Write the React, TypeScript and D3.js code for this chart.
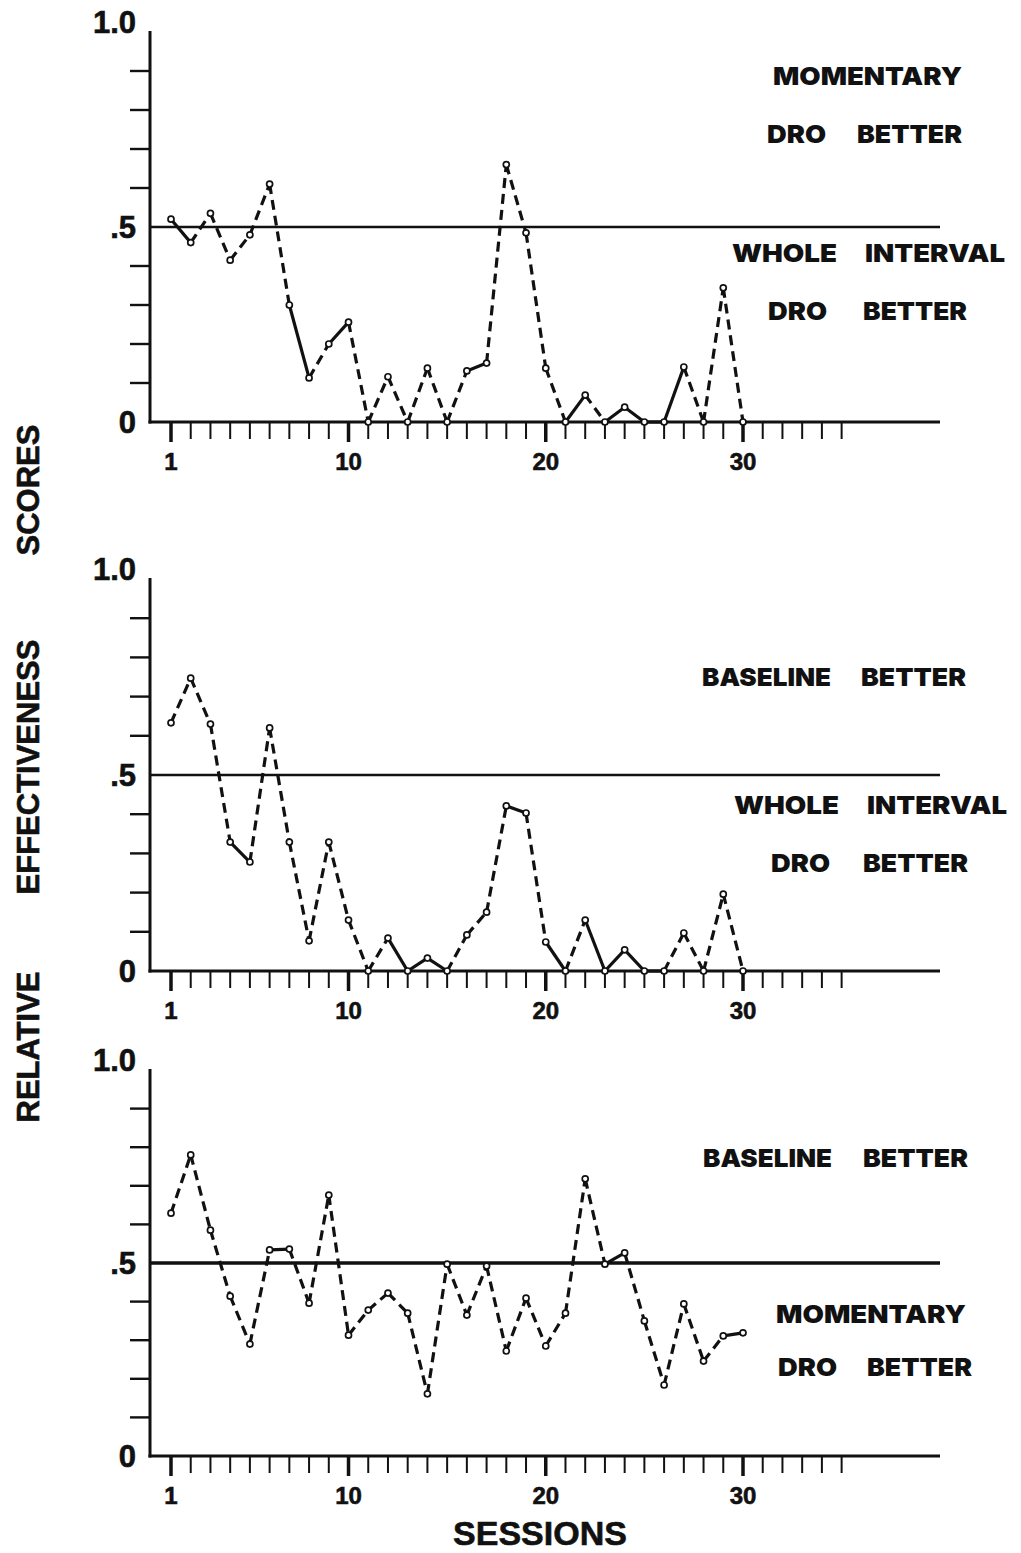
import React from "react";
import * as d3 from "d3";

// ---------- data ----------
const sessions = d3.range(1, 31);
const panel1Scores = [0.52, 0.46, 0.535, 0.415, 0.48, 0.61, 0.3, 0.113, 0.2, 0.256, 0, 0.116, 0, 0.138, 0, 0.131, 0.151, 0.66, 0.485, 0.138, 0, 0.069, 0, 0.038, 0, 0, 0.141, 0, 0.344, 0];
const panel2Scores = [0.633, 0.747, 0.63, 0.329, 0.278, 0.62, 0.329, 0.077, 0.329, 0.13, 0, 0.084, 0, 0.033, 0, 0.092, 0.15, 0.421, 0.403, 0.074, 0, 0.13, 0, 0.054, 0, 0, 0.097, 0, 0.196, 0];
const panel3Scores = [0.629, 0.78, 0.585, 0.414, 0.29, 0.534, 0.536, 0.396, 0.676, 0.313, 0.378, 0.422, 0.37, 0.161, 0.497, 0.365, 0.492, 0.272, 0.409, 0.285, 0.37, 0.718, 0.497, 0.526, 0.35, 0.184, 0.394, 0.246, 0.311, 0.319];
// segments (starting session) drawn as solid strokes in the original
const panel1Solid = [1, 7, 9, 16, 21, 23, 24, 25, 26];
const panel2Solid = [4, 12, 13, 14, 18, 20, 22, 23, 24, 25];
const panel3Solid = [6, 23, 29];
const xTickValues = d3.range(1, 36);
const xTickLabels = [1, 10, 20, 30];
const yMinorTicks = [0.1, 0.2, 0.3, 0.4, 0.6, 0.7, 0.8, 0.9];
const yAxisLabels = [
  { v: 1.0, t: "1.0" },
  { v: 0.5, t: ".5" },
  { v: 0, t: "0" },
];
const referenceValue = 0.5;

type Word = { text: string; x0: number; x1: number };
type Note = { baseline: number; words: Word[] };

const panel1Notes: Note[] = [
  { baseline: 85, words: [{ text: "MOMENTARY", x0: 773, x1: 962 }] },
  { baseline: 143, words: [{ text: "DRO", x0: 767, x1: 826 }, { text: "BETTER", x0: 857, x1: 962 }] },
  { baseline: 262, words: [{ text: "WHOLE", x0: 732, x1: 837 }, { text: "INTERVAL", x0: 865, x1: 1005 }] },
  { baseline: 320, words: [{ text: "DRO", x0: 768, x1: 827 }, { text: "BETTER", x0: 863, x1: 967 }] },
];
const panel2Notes: Note[] = [
  { baseline: 686, words: [{ text: "BASELINE", x0: 702, x1: 831 }, { text: "BETTER", x0: 861, x1: 966 }] },
  { baseline: 814, words: [{ text: "WHOLE", x0: 734, x1: 839 }, { text: "INTERVAL", x0: 867, x1: 1007 }] },
  { baseline: 872, words: [{ text: "DRO", x0: 771, x1: 830 }, { text: "BETTER", x0: 863, x1: 968 }] },
];
const panel3Notes: Note[] = [
  { baseline: 1167, words: [{ text: "BASELINE", x0: 703, x1: 832 }, { text: "BETTER", x0: 863, x1: 968 }] },
  { baseline: 1323, words: [{ text: "MOMENTARY", x0: 776, x1: 966 }] },
  { baseline: 1376, words: [{ text: "DRO", x0: 778, x1: 837 }, { text: "BETTER", x0: 867, x1: 972 }] },
];

// ---------- layout ----------
const W = 1021;
const H = 1553;
const axisX = 150;
const axisEnd = 940;
const x = d3.scaleLinear().domain([1, 30]).range([171, 743]);

const panels = [
  { y0: 422, y1: 32, data: panel1Scores, solid: panel1Solid, notes: panel1Notes, refW: 2.6 },
  { y0: 971, y1: 579, data: panel2Scores, solid: panel2Solid, notes: panel2Notes, refW: 2.6 },
  { y0: 1456, y1: 1070, data: panel3Scores, solid: panel3Solid, notes: panel3Notes, refW: 3.6 },
];

const ink = "#111";
const numFont = "'Liberation Sans', Arial, Helvetica, sans-serif";
const noteFont = "Inter, 'DejaVu Sans', sans-serif";

function Panel({ p }: { p: (typeof panels)[number] }) {
  const y = d3.scaleLinear().domain([0, 1]).range([p.y0, p.y1]);
  const line = d3
    .line<[number, number]>()
    .x((d) => x(d[0]))
    .y((d) => y(d[1]));
  const pts: [number, number][] = sessions.map((s, i) => [s, p.data[i]]);
  const segs = pts.slice(0, -1).map((a, i) => ({ a, b: pts[i + 1], solid: p.solid.includes(a[0]) }));
  return (
    <g>
      {/* y axis */}
      <line x1={axisX} x2={axisX} y1={y(1) - 1} y2={y(0) + 1.5} stroke={ink} strokeWidth={3} />
      {yMinorTicks.map((v) => (
        <line key={v} x1={axisX - 20} x2={axisX} y1={y(v)} y2={y(v)} stroke={ink} strokeWidth={2.4} />
      ))}
      {yAxisLabels.map((l) => (
        <text
          key={l.t}
          x={136}
          y={y(l.v) + (l.v === 1 ? 1 : 11)}
          textAnchor="end"
          fontFamily={numFont}
          fontWeight="bold"
          fontSize={31}
          fill={ink}
          stroke={ink}
          strokeWidth={0.6}
        >
          {l.t}
        </text>
      ))}
      {/* x axis */}
      <line x1={axisX - 1.5} x2={axisEnd} y1={y(0)} y2={y(0)} stroke={ink} strokeWidth={3} />
      {xTickValues.map((t) => {
        const major = xTickLabels.includes(t);
        return (
          <line
            key={t}
            x1={x(t)}
            x2={x(t)}
            y1={y(0)}
            y2={y(0) + (major ? 20 : 17)}
            stroke={ink}
            strokeWidth={major ? 3.5 : 2}
          />
        );
      })}
      {xTickLabels.map((t) => (
        <text
          key={t}
          x={x(t)}
          y={y(0) + 48}
          textAnchor="middle"
          fontFamily={numFont}
          fontWeight="bold"
          fontSize={24}
          fill={ink}
          stroke={ink}
          strokeWidth={0.6}
        >
          {t}
        </text>
      ))}
      {/* reference line */}
      <line x1={axisX} x2={axisEnd} y1={y(referenceValue)} y2={y(referenceValue)} stroke={ink} strokeWidth={p.refW} />
      {/* data */}
      {segs.map((s, i) => (
        <path
          key={i}
          d={line([s.a, s.b]) || ""}
          fill="none"
          stroke={ink}
          strokeWidth={3.2}
          strokeDasharray={s.solid ? undefined : "10,6"}
        />
      ))}
      {pts.map((d) => (
        <circle key={d[0]} cx={x(d[0])} cy={y(d[1])} r={3} fill="#fff" stroke={ink} strokeWidth={1.7} />
      ))}
      {/* annotations */}
      {p.notes.map((n, i) =>
        n.words.map((w) => (
          <text
            key={i + w.text + w.x0}
            x={w.x0}
            y={n.baseline}
            textLength={w.x1 - w.x0}
            lengthAdjust="spacingAndGlyphs"
            fontFamily={noteFont}
            fontWeight={900}
            fontSize={25}
            fill={ink}
          >
            {w.text}
          </text>
        ))
      )}
    </g>
  );
}

export default function App() {
  const titleWords = [
    { t: "RELATIVE", c: 1047 },
    { t: "EFFECTIVENESS", c: 767 },
    { t: "SCORES", c: 490 },
  ];
  return (
    <svg
      width={W}
      height={H}
      viewBox={`0 0 ${W} ${H}`}
      style={{ position: "absolute", left: 0, top: 0, background: "#fff", display: "block" }}
    >
      <rect width={W} height={H} fill="#fff" />
      {panels.map((p, i) => (
        <Panel key={i} p={p} />
      ))}
      {titleWords.map((w) => (
        <text
          key={w.t}
          transform={`translate(39, ${w.c}) rotate(-90)`}
          textAnchor="middle"
          fontFamily={numFont}
          fontWeight="bold"
          fontSize={31}
          fill={ink}
          stroke={ink}
          strokeWidth={0.6}
        >
          {w.t}
        </text>
      ))}
      <text
        x={540}
        y={1545}
        textAnchor="middle"
        fontFamily={numFont}
        fontWeight="bold"
        fontSize={34}
        fill={ink}
        stroke={ink}
        strokeWidth={0.6}
      >
        SESSIONS
      </text>
    </svg>
  );
}
